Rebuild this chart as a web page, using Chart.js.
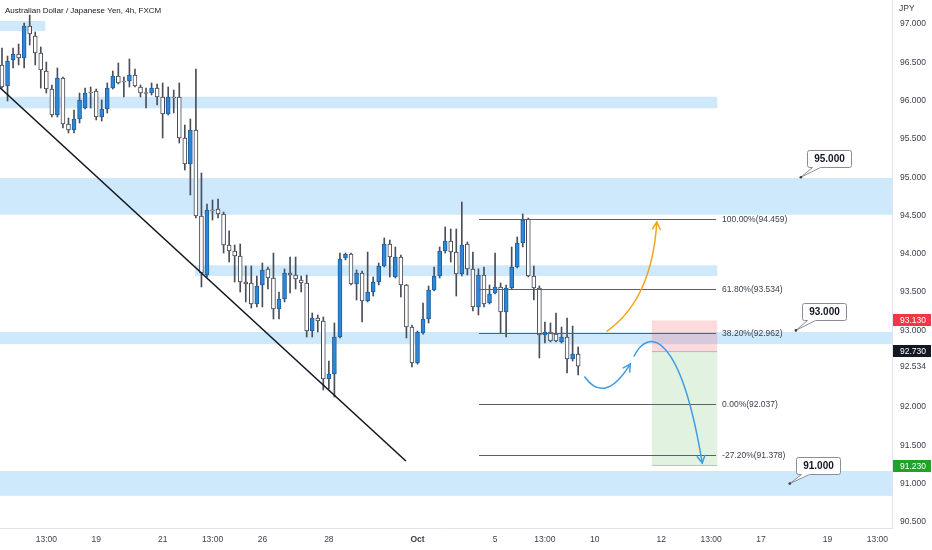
<!DOCTYPE html>
<html>
<head>
<meta charset="utf-8">
<script src="https://cdn.jsdelivr.net/npm/chart.js@4.4.0/dist/chart.umd.min.js"></script>
<style>
  html, body { margin: 0; padding: 0; background: #fff; }
  #wrap { width: 932px; height: 550px; position: relative; }
</style>
</head>
<body>
<div id="wrap"><canvas id="chart"></canvas></div>
<script>
// AUD/JPY 4h candles (index = candle slot)
const opens = [96.465,96.191,96.530,96.608,96.556,96.974,96.843,96.621,96.386,96.151,
  95.812,96.295,95.694,95.616,95.760,95.903,96.112,96.125,95.786,95.890,
  96.164,96.321,96.250,96.256,96.334,96.178,96.099,96.099,96.164,96.047,
  95.825,96.047,96.047,95.512,95.172,95.616,94.493,93.723,94.572,94.585,
  94.520,94.115,94.037,93.971,93.632,93.619,93.345,93.593,93.802,93.684,
  93.279,93.410,93.749,93.723,93.658,93.619,92.992,93.162,93.123,92.366,
  92.431,92.914,93.945,93.997,93.606,93.749,93.384,93.501,93.632,93.841,
  94.128,93.697,93.958,93.593,93.044,92.574,92.966,93.149,93.527,93.710,
  94.037,94.167,94.023,93.736,94.128,93.802,93.306,93.723,93.358,93.488,
  93.567,93.240,93.553,93.828,94.141,94.454,93.710,93.553,92.940,92.979,
  92.953,92.849,92.914,92.627,92.692];
const highs = [96.687,96.582,96.687,96.739,97.013,97.117,96.896,96.700,96.504,96.204,
  96.426,96.308,95.773,95.877,96.099,96.164,96.178,96.151,96.008,96.230,
  96.386,96.491,96.308,96.543,96.413,96.204,96.164,96.230,96.217,96.230,
  96.178,96.138,96.230,95.681,95.760,96.413,95.055,94.650,94.702,94.715,
  94.546,94.299,94.115,94.128,93.841,93.841,93.710,93.880,93.828,94.010,
  93.501,93.802,93.958,93.958,93.710,93.723,93.227,93.201,93.175,92.600,
  93.097,94.010,94.010,94.010,93.789,93.776,94.023,93.697,93.880,94.207,
  94.180,94.089,93.984,93.600,93.071,92.992,93.358,93.580,93.828,94.089,
  94.350,94.324,94.324,94.676,94.154,94.023,93.802,93.828,93.593,94.010,
  93.619,93.593,94.089,94.220,94.520,94.467,93.841,93.580,93.110,93.097,
  93.227,93.044,93.162,93.057,92.783];
const lows = [96.164,95.995,96.426,96.465,96.426,96.726,96.465,96.164,96.099,95.786,
  95.786,95.642,95.577,95.577,95.708,95.890,95.903,95.747,95.734,95.838,
  96.151,96.217,96.047,96.178,96.178,96.047,95.903,96.073,95.943,95.512,
  95.812,95.838,95.446,95.094,94.768,94.467,93.567,93.697,94.441,94.467,
  94.010,93.893,93.632,93.501,93.371,93.292,93.306,93.306,93.540,93.149,
  93.149,93.371,93.488,93.540,93.501,92.914,92.914,92.979,92.222,92.235,
  92.130,92.901,93.919,93.593,93.397,93.110,93.371,93.449,93.593,93.828,
  93.697,93.684,93.436,92.901,92.522,92.560,92.950,93.097,93.514,93.684,
  94.010,93.893,93.449,93.710,93.723,93.253,93.201,93.306,93.345,93.475,
  92.966,92.914,93.540,93.815,94.089,93.697,93.397,92.640,92.835,92.849,
  92.849,92.835,92.444,92.600,92.418];
const closes = [96.178,96.517,96.608,96.556,96.974,96.869,96.621,96.400,96.151,95.812,
  96.295,95.694,95.616,95.760,96.008,96.099,96.099,95.786,95.890,96.164,
  96.321,96.230,96.243,96.334,96.191,96.099,96.093,96.164,96.047,95.825,
  96.047,96.034,95.512,95.172,95.616,94.493,93.749,94.572,94.559,94.520,
  94.115,94.037,93.971,93.632,93.606,93.345,93.580,93.789,93.684,93.279,
  93.410,93.749,93.723,93.671,93.619,92.992,93.162,93.123,92.366,92.431,
  92.914,93.932,93.997,93.606,93.749,93.384,93.501,93.632,93.841,94.128,
  93.958,93.958,93.593,93.044,92.574,92.979,93.149,93.527,93.710,94.037,
  94.167,94.023,93.736,94.115,93.802,93.306,93.723,93.345,93.475,93.567,
  93.240,93.553,93.828,94.141,94.441,93.710,93.553,92.940,92.979,92.862,
  92.862,92.914,92.627,92.692,92.534];

// axis ticks
const xTickPos = [8, 17, 29, 38, 47, 59, 75, 89, 98, 107, 119, 128, 137, 149, 158];
const xTickText = ["13:00", "19", "21", "13:00", "26", "28", "Oct", "5", "13:00", "10", "12", "13:00", "17", "19", "13:00"];
const yTickVals = [90.5, 91, 91.5, 92, 92.5, 93, 93.5, 94, 94.5, 95, 95.5, 96, 96.5, 97];

// drawings (slot / price units)
const zoneFrom = [-2, -2, -2, 34.8, -2, -2];
const zoneTo = [7.8, 129.1, 200, 129.1, 200, 200];
const zoneTop = [97.04, 96.05, 94.99, 93.85, 92.98, 91.165];
const zoneBottom = [96.91, 95.90, 94.51, 93.71, 92.82, 90.84];

const fibPct = ["100.00%", "61.80%", "38.20%", "0.00%", "-27.20%"];
const fibVal = [94.459, 93.534, 92.962, 92.037, 91.378];
const fibFrom = 86.1, fibTo = 128.9;

const trendX = [-0.5, 72.9];
const trendY = [96.177, 91.295];

const posFrom = 117.3, posTo = 129.1;
const posStop = 93.13, posEntry = 92.73, posTarget = 91.23;

const orangeArrow = [[109.2, 92.99], [117.3, 93.40], [118.2, 94.415]];
const blueArrow1 = [[105.2, 92.392], [108.8, 92.026], [113.4, 92.561]];
const blueArrow2 = [[114.1, 92.666], [116.6, 93.031], [122.4, 93.005], [126.4, 91.269]];

const calloutVal = [95, 93, 91];
const calloutX = [144.2, 143.3, 142.2];

const lastPrice = 92.534;

const idx = opens.map((_, i) => i);
const isUp = idx.map(i => closes[i] > opens[i]);

const FONT = "'Liberation Sans', Arial, sans-serif";
Chart.defaults.font.family = FONT;
Chart.defaults.font.size = 8.5;
Chart.defaults.color = "#3a3e4a";

const arrowHead = (ctx, fx, fy, tx, ty) => {
  const ang = Math.atan2(ty - fy, tx - fx);
  const len = 8, spread = 0.5;
  ctx.beginPath();
  ctx.moveTo(tx - len * Math.cos(ang - spread), ty - len * Math.sin(ang - spread));
  ctx.lineTo(tx, ty);
  ctx.lineTo(tx - len * Math.cos(ang + spread), ty - len * Math.sin(ang + spread));
  ctx.stroke();
};

const drawings = {
  id: "drawings",
  beforeDatasetsDraw(chart) {
    const { ctx, chartArea: a, scales: { x, y } } = chart;
    ctx.save();
    ctx.beginPath();
    ctx.rect(a.left, a.top, a.width, a.height);
    ctx.clip();
    // blue zones
    ctx.fillStyle = "rgba(33, 150, 243, 0.22)";
    zoneTop.forEach((t, k) => {
      const x0 = x.getPixelForValue(zoneFrom[k]);
      const x1 = x.getPixelForValue(zoneTo[k]);
      const y0 = y.getPixelForValue(t);
      const y1 = y.getPixelForValue(zoneBottom[k]);
      ctx.fillRect(x0, y0, x1 - x0, y1 - y0);
    });
    // long position box
    const bx0 = x.getPixelForValue(posFrom), bx1 = x.getPixelForValue(posTo);
    const ys = y.getPixelForValue(posStop), ye = y.getPixelForValue(posEntry), yt = y.getPixelForValue(posTarget);
    ctx.fillStyle = "rgba(242, 54, 69, 0.18)";
    ctx.fillRect(bx0, ys, bx1 - bx0, ye - ys);
    ctx.fillStyle = "rgba(76, 175, 80, 0.17)";
    ctx.fillRect(bx0, ye, bx1 - bx0, yt - ye);
    ctx.strokeStyle = "rgba(120, 123, 134, 0.45)";
    ctx.lineWidth = 1;
    ctx.beginPath();
    ctx.moveTo(bx0, ye + 0.5); ctx.lineTo(bx1, ye + 0.5);
    ctx.stroke();
    ctx.strokeStyle = "rgba(76, 175, 80, 0.45)";
    ctx.beginPath();
    ctx.moveTo(bx0, yt - 0.5); ctx.lineTo(bx1, yt - 0.5);
    ctx.stroke();
    ctx.restore();
  },
  afterDatasetsDraw(chart) {
    const { ctx, chartArea: a, scales: { x, y } } = chart;
    const P = (pt) => [x.getPixelForValue(pt[0]), y.getPixelForValue(pt[1])];
    ctx.save();
    ctx.beginPath();
    ctx.rect(a.left, a.top, a.width, a.height);
    ctx.clip();

    // trend line
    ctx.strokeStyle = "#131722";
    ctx.lineWidth = 1.6;
    ctx.beginPath();
    ctx.moveTo(x.getPixelForValue(trendX[0]), y.getPixelForValue(trendY[0]));
    ctx.lineTo(x.getPixelForValue(trendX[1]), y.getPixelForValue(trendY[1]));
    ctx.stroke();

    // fib levels
    const fx0 = x.getPixelForValue(fibFrom), fx1 = x.getPixelForValue(fibTo);
    ctx.lineWidth = 1;
    ctx.strokeStyle = "#5d606b";
    ctx.fillStyle = "#3a3e4a";
    ctx.font = "8.5px " + FONT;
    ctx.textBaseline = "middle";
    ctx.textAlign = "left";
    fibVal.forEach((v, k) => {
      const py = Math.round(y.getPixelForValue(v)) + 0.5;
      ctx.beginPath();
      ctx.moveTo(fx0, py); ctx.lineTo(fx1, py);
      ctx.stroke();
      ctx.fillText(fibPct[k] + "(" + v.toFixed(3) + ")", fx1 + 6, py);
    });

    // hand-drawn arrows
    ctx.lineWidth = 1.5;
    ctx.lineCap = "round";
    ctx.strokeStyle = "#f5a21e";
    let p = orangeArrow.map(P);
    ctx.beginPath();
    ctx.moveTo(p[0][0], p[0][1]);
    ctx.quadraticCurveTo(p[1][0], p[1][1], p[2][0], p[2][1]);
    ctx.stroke();
    arrowHead(ctx, p[1][0], p[1][1], p[2][0], p[2][1]);

    ctx.strokeStyle = "#3d9be9";
    p = blueArrow1.map(P);
    ctx.beginPath();
    ctx.moveTo(p[0][0], p[0][1]);
    ctx.quadraticCurveTo(p[1][0], p[1][1], p[2][0], p[2][1]);
    ctx.stroke();
    arrowHead(ctx, p[1][0], p[1][1], p[2][0], p[2][1]);

    p = blueArrow2.map(P);
    ctx.beginPath();
    ctx.moveTo(p[0][0], p[0][1]);
    ctx.bezierCurveTo(p[1][0], p[1][1], p[2][0], p[2][1], p[3][0], p[3][1]);
    ctx.stroke();
    arrowHead(ctx, p[2][0], p[2][1], p[3][0], p[3][1]);

    // callouts
    ctx.lineCap = "butt";
    calloutVal.forEach((v, k) => {
      const ax = x.getPixelForValue(calloutX[k]), ay = y.getPixelForValue(v);
      const w = 44, h = 17;
      const bx = Math.round(ax + 6) + 0.5, by = Math.round(ay - 10 - h) + 0.5;
      ctx.fillStyle = "#ffffff";
      ctx.strokeStyle = "#8a8d96";
      ctx.lineWidth = 1;
      ctx.beginPath();
      ctx.moveTo(bx + 2, by);
      ctx.lineTo(bx + w - 2, by);
      ctx.quadraticCurveTo(bx + w, by, bx + w, by + 2);
      ctx.lineTo(bx + w, by + h - 2);
      ctx.quadraticCurveTo(bx + w, by + h, bx + w - 2, by + h);
      ctx.lineTo(bx + 13, by + h);
      ctx.lineTo(ax, ay);
      ctx.lineTo(bx + 5, by + h);
      ctx.lineTo(bx + 2, by + h);
      ctx.quadraticCurveTo(bx, by + h, bx, by + h - 2);
      ctx.lineTo(bx, by + 2);
      ctx.quadraticCurveTo(bx, by, bx + 2, by);
      ctx.closePath();
      ctx.fill();
      ctx.stroke();
      ctx.fillStyle = "#3a3e4a";
      ctx.beginPath();
      ctx.arc(ax, ay, 1.3, 0, Math.PI * 2);
      ctx.fill();
      ctx.fillStyle = "#131722";
      ctx.font = "bold 10px " + FONT;
      ctx.textAlign = "center";
      ctx.fillText(v.toFixed(3), bx + w / 2, by + h / 2 + 0.5);
      ctx.textAlign = "left";
    });
    ctx.restore();
  },
  afterDraw(chart) {
    const { ctx, chartArea: a, scales: { y } } = chart;
    ctx.save();
    ctx.textBaseline = "middle";
    ctx.textAlign = "left";
    ctx.font = "8.5px " + FONT;
    const tags = [[posStop, "#f23645"], [posEntry, "#131722"], [posTarget, "#1fa32a"]];
    tags.forEach(([v, c]) => {
      const py = y.getPixelForValue(v);
      ctx.fillStyle = c;
      ctx.fillRect(a.right + 1, Math.round(py - 6), 38, 12);
      ctx.fillStyle = "#ffffff";
      ctx.fillText(v.toFixed(3), a.right + 8, py + 0.5);
    });
    const ly = y.getPixelForValue(lastPrice);
    ctx.fillStyle = "#ffffff";
    ctx.fillRect(a.right + 1, Math.round(ly - 6), 38, 12);
    ctx.fillStyle = "#3a3e4a";
    ctx.fillText(lastPrice.toFixed(3), a.right + 8, ly + 0.5);
    ctx.fillText("JPY", a.right + 7, 9);
    ctx.fillStyle = "#131722";
    ctx.font = "8px " + FONT;
    ctx.fillText("Australian Dollar / Japanese Yen, 4h, FXCM", 5, 11);
    ctx.restore();
  }
};

new Chart(document.getElementById("chart"), {
  type: "bar",
  data: {
    datasets: [
      {
        label: "body",
        data: idx.map(i => ({ x: i, y: [opens[i], closes[i]] })),
        backgroundColor: idx.map(i => (isUp[i] ? "#2d86d6" : "#ffffff")),
        borderColor: idx.map(i => (isUp[i] ? "#1f5f9e" : "#434651")),
        borderWidth: 1,
        borderSkipped: false,
        barThickness: 4,
        minBarLength: 1,
        grouped: false,
        order: 1,
      },
      {
        label: "wick",
        data: idx.map(i => ({ x: i, y: [lows[i], highs[i]] })),
        backgroundColor: "#4a4e59",
        borderWidth: 0,
        barThickness: 1,
        grouped: false,
        order: 2,
      },
    ],
  },
  options: {
    responsive: true,
    maintainAspectRatio: false,
    animation: false,
    events: [],
    layout: { padding: 0 },
    plugins: { legend: { display: false }, tooltip: { enabled: false } },
    scales: {
      x: {
        type: "linear",
        offset: false,
        min: -0.36,
        max: 160.65,
        // tick marks kept invisible, their length just spaces the labels
        grid: { display: true, drawOnChartArea: false, drawTicks: true, tickLength: 7, color: "rgba(0,0,0,0)" },
        border: { display: true, color: "#e0e3eb" },
        afterBuildTicks: (s) => { s.ticks = xTickPos.map(v => ({ value: v })); },
        afterFit: (s) => { s.height = 22; s.paddingLeft = 0; s.paddingRight = 0; },
        ticks: {
          autoSkip: false,
          maxRotation: 0,
          padding: 0,
          color: "#3a3e4a",
          font: (c) => ({
            size: 8.5,
            weight: c.tick && xTickText[xTickPos.indexOf(c.tick.value)] === "Oct" ? "bold" : "normal",
          }),
          callback: (v) => {
            const k = xTickPos.indexOf(v);
            return k >= 0 ? xTickText[k] : "";
          },
        },
      },
      y: {
        position: "right",
        min: 90.4204,
        max: 97.3133,
        grid: { display: true, drawOnChartArea: false, drawTicks: true, tickLength: 8, color: "rgba(0,0,0,0)" },
        border: { display: true, color: "#e0e3eb" },
        afterBuildTicks: (s) => { s.ticks = yTickVals.map(v => ({ value: v })); },
        // no room kept for half labels above/below: the plot runs to the top edge
        afterFit: (s) => { s.width = 40; s.paddingTop = 0; s.paddingBottom = 0; },
        ticks: {
          padding: 0,
          color: "#3a3e4a",
          callback: (v) => Number(v).toFixed(3),
        },
      },
    },
  },
  plugins: [drawings],
});
</script>
</body>
</html>
